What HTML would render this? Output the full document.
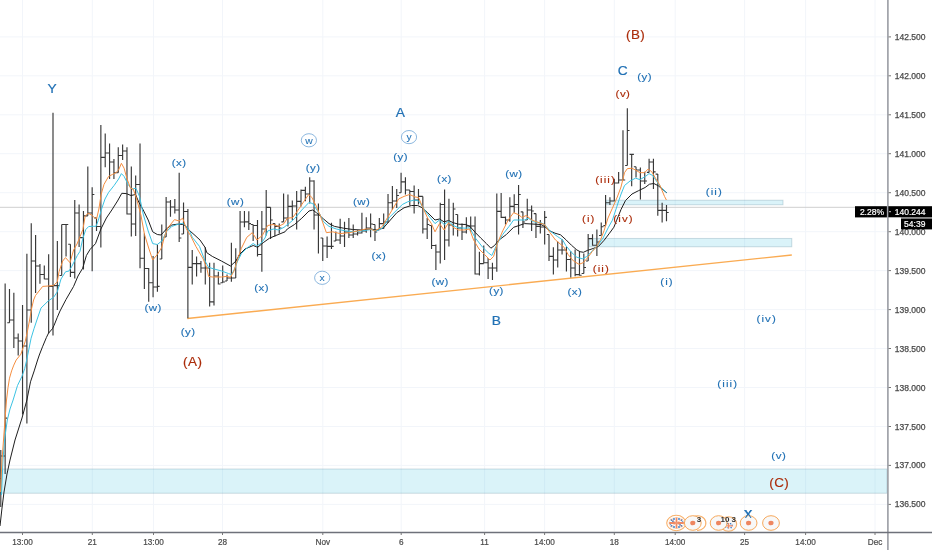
<!DOCTYPE html><html><head><meta charset="utf-8"><style>html,body{margin:0;padding:0;background:#fff;overflow:hidden}svg{display:block;will-change:transform}text{font-family:"Liberation Sans",sans-serif}</style></head><body>
<svg width="932" height="550" viewBox="0 0 932 550">
<rect width="932" height="550" fill="#fff"/>
<path d="M22.5,0V531 M92.3,0V531 M153.5,0V531 M222.5,0V531 M322.8,0V531 M401.2,0V531 M484.6,0V531 M544.6,0V531 M614.3,0V531 M675.2,0V531 M744.6,0V531 M805.6,0V531 M875.0,0V531 M0,36.9H887 M0,75.8H887 M0,114.8H887 M0,153.7H887 M0,192.7H887 M0,231.7H887 M0,270.6H887 M0,309.6H887 M0,348.5H887 M0,387.5H887 M0,426.5H887 M0,465.4H887 M0,504.4H887" stroke="#f2f5fa" stroke-width="1" fill="none"/>
<rect x="0" y="469" width="887" height="24.2" fill="rgba(60,190,222,0.19)" stroke="rgba(110,150,165,0.35)" stroke-width="0.9"/>
<rect x="589.4" y="238.4" width="202.4" height="8.4" fill="rgba(60,190,222,0.19)" stroke="rgba(110,150,165,0.35)" stroke-width="0.9"/>
<rect x="606" y="200.2" width="177" height="4.6" fill="rgba(60,190,222,0.19)" stroke="rgba(110,150,165,0.35)" stroke-width="0.9"/>
<path d="M0,207.3H887" stroke="#cfcfcf" stroke-width="1"/>
<path d="M187.3,318.5L791.8,255" stroke="#faab52" stroke-width="1.4" fill="none"/>
<path d="M0.79,450.0V507.0M-1.41,478.5H0.79M0.79,456.0H2.99M5.14,283.6V474.0M2.94,456.0H5.14M5.14,418.1H7.34M9.49,289.0V322.7M7.29,322.7H9.49M9.49,320.0H11.69M13.84,292.7V348.0M11.64,320.0H13.84M13.84,338.0H16.04M18.19,333.6V355.5M15.99,338.0H18.19M18.19,341.0H20.39M22.54,305.0V414.5M20.34,341.0H22.54M22.54,346.0H24.74M26.89,253.8V423.6M24.70,346.0H26.89M26.89,310.0H29.09M31.25,223.3V322.7M29.05,310.0H31.25M31.25,261.0H33.45M35.60,235.0V293.0M33.40,261.0H35.60M35.60,266.0H37.80M39.95,264.0V283.7M37.75,266.0H39.95M39.95,274.5H42.15M44.30,265.5V279.3M42.10,274.5H44.30M44.30,279.0H46.50M48.65,254.3V333.6M46.45,279.0H48.65M48.65,286.3H50.85M53.00,112.7V335.5M50.80,286.3H53.00M53.00,285.6H55.20M57.35,241.0V310.0M55.15,285.6H57.35M57.35,285.6H59.55M61.70,224.5V275.5M59.50,275.5H61.70M61.70,224.5H63.90M66.05,224.5V256.5M63.85,224.5H66.05M66.05,224.5H68.25M70.41,244.2V277.0M68.20,244.2H70.41M70.41,272.3H72.61M74.76,200.0V278.4M72.56,272.3H74.76M74.76,213.0H76.96M79.11,204.5V247.0M76.91,213.0H79.11M79.11,237.6H81.31M83.46,211.0V269.6M81.26,237.6H83.46M83.46,215.8H85.66M87.81,166.4V215.8M85.61,215.8H87.81M87.81,213.0H90.01M92.16,187.3V271.3M89.96,213.0H92.16M92.16,194.5H94.36M96.51,217.8V231.0M94.31,217.8H96.51M96.51,226.5H98.71M100.86,124.9V247.6M98.66,226.5H100.86M100.86,157.3H103.06M105.21,133.6V167.3M103.01,157.3H105.21M105.21,153.0H107.41M109.56,143.6V179.0M107.36,153.0H109.56M109.56,162.0H111.76M113.92,159.0V179.0M111.72,162.0H113.92M113.92,172.7H116.12M118.27,147.3V172.7M116.07,172.7H118.27M118.27,155.5H120.47M122.62,144.5V160.0M120.42,155.5H122.62M122.62,151.0H124.82M126.97,147.3V214.5M124.77,151.0H126.97M126.97,214.0H129.17M131.32,166.4V236.4M129.12,214.0H131.32M131.32,224.0H133.52M135.67,175.5V236.0M133.47,224.0H135.67M135.67,184.5H137.87M140.02,143.6V268.2M137.82,184.5H140.02M140.02,258.2H142.22M144.37,233.6V289.0M142.17,258.2H144.37M144.37,268.5H146.57M148.72,268.0V301.8M146.52,268.5H148.72M148.72,282.7H150.92M153.07,256.0V297.3M150.87,282.7H153.07M153.07,287.0H155.27M157.42,244.5V291.8M155.22,287.0H157.42M157.42,286.4H159.62M161.78,224.5V259.0M159.58,259.0H161.78M161.78,240.0H163.98M166.13,197.0V237.0M163.93,237.0H166.13M166.13,202.0H168.33M170.48,200.0V216.7M168.28,202.0H170.48M170.48,207.0H172.68M174.83,199.0V213.6M172.63,207.0H174.83M174.83,210.0H177.03M179.18,172.7V242.0M176.98,210.0H179.18M179.18,238.0H181.38M183.53,202.4V234.0M181.33,234.0H183.53M183.53,211.5H185.73M187.88,209.0V318.2M185.68,211.5H187.88M187.88,267.3H190.08M192.23,250.0V284.5M190.03,267.3H192.23M192.23,263.6H194.43M196.58,256.4V276.4M194.38,263.6H196.58M196.58,263.6H198.78M200.93,261.0V272.7M198.73,263.6H200.93M200.93,268.0H203.13M205.29,247.3V284.5M203.09,268.0H205.29M205.29,268.0H207.49M209.64,262.7V306.4M207.44,268.0H209.64M209.64,301.8H211.84M213.99,262.7V305.5M211.79,301.8H213.99M213.99,276.0H216.19M218.34,271.8V284.5M216.14,276.0H218.34M218.34,284.0H220.54M222.69,265.5V282.7M220.49,282.7H222.69M222.69,282.0H224.89M227.04,274.5V281.0M224.84,281.0H227.04M227.04,278.0H229.24M231.39,242.7V281.8M229.19,278.0H231.39M231.39,278.0H233.59M235.74,248.2V278.0M233.54,278.0H235.74M235.74,260.0H237.94M240.09,211.0V256.0M237.89,256.0H240.09M240.09,222.0H242.29M244.44,211.0V227.3M242.25,222.0H244.44M244.44,221.8H246.64M248.80,211.3V230.0M246.60,221.8H248.80M248.80,223.6H251.00M253.15,224.5V241.0M250.95,224.5H253.15M253.15,225.5H255.35M257.50,220.0V256.4M255.30,225.5H257.50M257.50,254.5H259.70M261.85,211.0V271.8M259.65,254.5H261.85M261.85,229.0H264.05M266.20,190.0V235.5M264.00,229.0H266.20M266.20,207.3H268.40M270.55,207.3V239.0M268.35,207.3H270.55M270.55,220.0H272.75M274.90,223.6V236.4M272.70,223.6H274.90M274.90,226.4H277.10M279.25,223.6V233.6M277.05,226.4H279.25M279.25,228.0H281.45M283.60,193.6V221.8M281.40,221.8H283.60M283.60,218.0H285.80M287.95,194.5V226.4M285.75,218.0H287.95M287.95,206.4H290.15M292.31,200.5V220.0M290.11,206.4H292.31M292.31,206.0H294.51M296.66,191.0V229.6M294.46,206.0H296.66M296.66,201.3H298.86M301.01,189.6V206.4M298.81,201.3H301.01M301.01,190.4H303.21M305.36,186.7V201.3M303.16,190.4H305.36M305.36,194.0H307.56M309.71,177.3V203.5M307.51,194.0H309.71M309.71,181.0H311.91M314.06,180.2V229.6M311.86,181.0H314.06M314.06,215.0H316.26M318.41,203.5V253.6M316.21,215.0H318.41M318.41,215.0H320.61M322.76,238.0V261.0M320.56,238.0H322.76M322.76,246.0H324.96M327.11,236.4V258.0M324.91,246.0H327.11M327.11,246.3H329.31M331.46,222.7V249.0M329.26,246.3H331.46M331.46,246.3H333.66M335.82,231.5V241.0M333.62,241.0H335.82M335.82,240.0H338.02M340.17,218.7V244.0M337.97,240.0H340.17M340.17,236.0H342.37M344.52,221.8V247.0M342.32,236.0H344.52M344.52,232.0H346.72M348.87,218.0V238.0M346.67,232.0H348.87M348.87,235.0H351.07M353.22,224.5V238.0M351.02,235.0H353.22M353.22,234.0H355.42M357.57,230.0V235.5M355.37,234.0H357.57M357.57,233.0H359.77M361.92,212.7V233.6M359.72,233.0H361.92M361.92,231.0H364.12M366.27,217.3V232.7M364.07,231.0H366.27M366.27,228.0H368.47M370.62,213.6V237.3M368.42,228.0H370.62M370.62,224.0H372.82M374.97,224.5V241.0M372.77,224.5H374.97M374.97,232.0H377.17M379.33,218.0V230.0M377.13,230.0H379.33M379.33,223.6H381.53M383.68,213.6V229.0M381.48,223.6H383.68M383.68,222.0H385.88M388.03,194.0V222.7M385.83,222.0H388.03M388.03,202.7H390.23M392.38,186.0V210.0M390.18,202.7H392.38M392.38,201.0H394.58M396.73,189.0V208.0M394.53,201.0H396.73M396.73,195.5H398.93M401.08,172.7V192.7M398.88,192.7H401.08M401.08,181.8H403.28M405.43,177.3V194.5M403.23,181.8H405.43M405.43,190.0H407.63M409.78,190.0V205.5M407.58,190.0H409.78M409.78,191.5H411.98M414.13,185.5V213.6M411.93,191.5H414.13M414.13,200.0H416.33M418.48,189.0V204.5M416.28,200.0H418.48M418.48,196.4H420.68M422.84,196.4V233.6M420.64,196.4H422.84M422.84,229.0H425.04M427.19,218.0V239.0M424.99,229.0H427.19M427.19,224.5H429.39M431.54,225.5V249.0M429.34,225.5H431.54M431.54,245.5H433.74M435.89,244.5V270.0M433.69,245.5H435.89M435.89,252.0H438.09M440.24,202.7V263.6M438.04,252.0H440.24M440.24,204.5H442.44M444.59,189.6V260.0M442.39,204.5H444.59M444.59,240.0H446.79M448.94,198.7V246.4M446.74,240.0H448.94M448.94,225.0H451.14M453.29,202.7V235.5M451.09,225.0H453.29M453.29,209.0H455.49M457.64,214.5V236.4M455.44,214.5H457.64M457.64,228.0H459.84M462.00,223.6V240.0M459.80,228.0H462.00M462.00,232.0H464.19M466.35,217.3V233.6M464.15,232.0H466.35M466.35,226.0H468.55M470.70,216.4V232.0M468.50,226.0H470.70M470.70,226.0H472.90M475.05,216.4V274.5M472.85,226.0H475.05M475.05,274.0H477.25M479.40,251.8V275.5M477.20,274.0H479.40M479.40,263.6H481.60M483.75,245.5V263.6M481.55,263.6H483.75M483.75,262.7H485.95M488.10,258.0V279.0M485.90,262.7H488.10M488.10,268.0H490.30M492.45,262.7V280.0M490.25,268.0H492.45M492.45,268.0H494.65M496.80,193.6V271.8M494.60,268.0H496.80M496.80,211.3H499.00M501.15,193.0V218.0M498.95,211.3H501.15M501.15,217.3H503.35M505.50,216.4V224.5M503.31,217.3H505.50M505.50,220.0H507.70M509.86,197.3V221.8M507.66,220.0H509.86M509.86,206.4H512.06M514.21,194.2V212.7M512.01,206.4H514.21M514.21,204.5H516.41M518.56,185.0V234.5M516.36,204.5H518.56M518.56,194.5H520.76M522.91,211.8V228.0M520.71,211.8H522.91M522.91,222.0H525.11M527.26,198.7V220.0M525.06,220.0H527.26M527.26,210.0H529.46M531.61,205.5V231.0M529.41,210.0H531.61M531.61,211.0H533.81M535.96,213.6V238.0M533.76,213.6H535.96M535.96,226.4H538.16M540.31,220.0V233.6M538.11,226.4H540.31M540.31,227.0H542.51M544.66,211.0V244.5M542.46,227.0H544.66M544.66,217.3H546.86M549.01,234.5V261.0M546.81,234.5H549.01M549.01,256.4H551.22M553.37,247.3V274.5M551.17,256.4H553.37M553.37,260.0H555.57M557.72,241.4V267.4M555.52,260.0H557.72M557.72,250.0H559.92M562.07,239.2V254.5M559.87,250.0H562.07M562.07,250.0H564.27M566.42,246.8V271.4M564.22,250.0H566.42M566.42,259.5H568.62M570.77,251.2V277.4M568.57,259.5H570.77M570.77,268.0H572.97M575.12,249.5V276.3M572.92,268.0H575.12M575.12,274.6H577.32M579.47,251.2V275.7M577.27,274.6H579.47M579.47,275.2H581.67M583.82,253.5V273.5M581.62,273.5H583.82M583.82,267.5H586.02M588.17,233.9V261.0M585.97,261.0H588.17M588.17,238.6H590.37M592.52,234.3V245.7M590.32,238.6H592.52M592.52,245.2H594.73M596.88,229.4V256.0M594.68,245.2H596.88M596.88,242.0H599.08M601.23,222.4V235.5M599.03,235.5H601.23M601.23,226.7H603.43M605.58,195.0V225.6M603.38,225.6H605.58M605.58,202.7H607.78M609.93,197.3V205.0M607.73,202.7H609.93M609.93,201.0H612.13M614.28,178.7V201.6M612.08,201.0H614.28M614.28,183.0H616.48M618.63,172.0V183.5M616.43,183.0H618.63M618.63,180.0H620.83M622.98,130.2V180.0M620.78,180.0H622.98M622.98,180.0H625.18M627.33,108.3V165.5M625.13,165.5H627.33M627.33,130.5H629.53M631.68,154.3V186.2M629.48,154.3H631.68M631.68,154.4H633.88M636.03,166.7V177.5M633.83,166.7H636.03M636.03,170.0H638.24M640.39,167.4V199.5M638.19,170.0H640.39M640.39,181.0H642.59M644.74,171.8V184.0M642.54,181.0H644.74M644.74,181.0H646.94M649.09,158.8V172.4M646.89,172.4H649.09M649.09,162.0H651.29M653.44,158.8V189.0M651.24,162.0H653.44M653.44,171.8H655.64M657.79,174.1V215.8M655.59,174.1H657.79M657.79,210.4H659.99M662.14,202.7V222.4M659.94,210.4H662.14M662.14,210.4H664.34M666.49,205.0V221.3M664.29,210.4H666.49M666.49,212.5H668.69" stroke="#383838" stroke-width="1.15" fill="none"/>
<path d="M0.0,526.0 L2.0,508.0 L4.0,492.0 L7.0,474.0 L10.0,460.0 L15.0,440.0 L22.0,418.0 L26.9,400.0 L30.5,381.8 L34.2,370.9 L37.6,360.0 L39.3,355.0 L42.5,346.8 L46.4,337.5 L48.5,333.2 L52.4,328.8 L54.0,325.5 L57.3,317.3 L60.0,311.0 L66.0,299.5 L73.6,286.4 L78.0,276.0 L82.7,268.2 L86.4,255.5 L90.0,249.5 L95.5,243.6 L100.9,229.0 L106.4,218.0 L111.8,210.0 L117.5,201.0 L121.8,193.3 L126.4,193.6 L131.0,195.5 L135.5,194.5 L139.0,202.7 L142.7,209.0 L148.2,220.0 L152.7,231.8 L157.3,234.5 L161.0,235.0 L166.4,229.0 L171.8,225.0 L177.3,224.2 L182.7,224.5 L185.0,225.5 L190.0,231.0 L194.0,234.5 L200.0,240.0 L205.0,247.3 L206.8,252.7 L212.3,256.4 L221.4,261.0 L230.5,266.0 L236.0,261.0 L239.5,254.5 L245.0,249.0 L253.2,245.5 L257.7,247.3 L263.2,242.7 L269.5,238.2 L275.9,235.5 L285.0,231.8 L287.3,229.0 L294.5,224.5 L301.8,218.2 L309.0,211.0 L312.7,210.0 L316.4,212.7 L323.6,219.0 L329.0,223.6 L334.5,226.4 L343.6,228.2 L352.7,229.5 L361.8,230.0 L370.9,229.0 L376.4,230.0 L383.2,228.2 L389.5,221.0 L396.8,212.7 L404.0,207.8 L411.4,205.5 L417.7,205.5 L422.3,207.8 L427.7,212.7 L435.0,220.0 L439.5,219.0 L444.0,221.8 L448.6,220.5 L453.2,222.7 L458.6,224.2 L465.9,224.5 L470.0,226.5 L475.5,232.7 L480.9,238.2 L486.4,243.6 L490.9,248.2 L494.5,245.5 L499.0,240.0 L506.4,234.5 L513.6,227.3 L519.0,225.5 L524.5,223.6 L531.8,224.0 L540.9,224.5 L544.5,226.4 L550.0,231.0 L555.0,233.2 L560.5,234.8 L565.9,239.7 L571.4,245.2 L576.8,249.9 L580.1,251.7 L583.4,252.3 L587.7,250.3 L593.2,248.5 L598.6,246.3 L604.1,240.3 L609.5,233.2 L613.9,227.2 L616.7,220.2 L621.1,209.3 L625.5,200.5 L632.0,194.0 L638.5,190.7 L645.1,187.5 L649.5,184.2 L653.8,183.5 L658.2,185.7 L666.9,192.9" stroke="#1e1e1e" stroke-width="1" fill="none"/>
<path d="M1.5,495.0 L2.3,475.0 L3.0,460.0 L4.5,440.0 L7.3,420.0 L10.0,409.0 L13.1,400.0 L17.5,385.5 L21.8,376.7 L24.7,368.7 L26.7,360.0 L28.9,349.1 L31.1,338.2 L34.0,328.7 L36.9,320.0 L41.0,308.0 L48.2,301.0 L53.6,297.3 L57.3,291.8 L61.0,279.0 L65.5,271.8 L69.0,271.0 L71.8,266.4 L77.3,255.5 L80.0,251.3 L82.9,238.2 L85.8,229.5 L88.7,226.5 L93.1,226.3 L96.0,226.3 L98.2,220.7 L101.6,209.0 L105.0,199.0 L108.6,192.4 L114.0,185.6 L118.6,179.0 L121.4,173.6 L124.1,176.4 L128.6,185.5 L132.3,189.0 L135.9,188.2 L139.5,196.4 L143.2,214.0 L148.2,231.0 L152.7,243.6 L157.3,244.5 L161.8,241.0 L166.4,231.8 L171.8,226.4 L177.3,224.5 L182.7,223.3 L186.4,226.4 L190.0,231.8 L192.3,237.3 L199.5,246.4 L205.0,261.0 L208.6,267.3 L214.1,269.0 L221.4,270.9 L228.6,273.6 L231.4,274.5 L234.1,270.0 L237.7,260.9 L241.4,253.6 L246.8,248.2 L253.2,243.5 L256.8,246.0 L261.4,243.0 L265.0,238.0 L267.7,231.0 L273.2,229.0 L278.6,230.0 L284.0,227.3 L289.5,223.0 L294.5,218.7 L301.8,210.0 L309.0,202.4 L312.7,203.6 L318.2,211.8 L323.6,221.8 L329.0,226.4 L336.4,229.0 L345.5,230.9 L354.5,231.8 L361.8,230.9 L370.9,229.5 L376.4,230.9 L382.3,228.2 L389.5,217.3 L396.8,210.0 L402.3,204.5 L407.7,201.8 L414.1,200.0 L418.6,200.9 L422.3,206.4 L427.7,214.5 L435.0,223.6 L439.5,220.0 L444.1,224.5 L448.6,221.3 L453.2,225.5 L458.6,227.8 L465.9,228.2 L469.5,227.8 L475.5,238.2 L482.7,247.3 L488.2,252.7 L491.8,255.5 L497.3,243.6 L502.7,234.5 L509.1,226.4 L513.6,220.0 L519.1,220.0 L524.5,220.0 L528.2,218.2 L533.6,221.8 L540.9,222.7 L544.5,224.5 L550.0,230.9 L557.3,236.4 L562.7,240.0 L565.9,245.7 L571.4,252.3 L576.8,257.2 L582.3,258.8 L586.6,256.6 L592.1,251.2 L597.5,245.7 L603.0,238.1 L608.5,227.2 L612.4,220.2 L616.7,207.1 L619.0,200.0 L621.1,194.0 L624.5,185.5 L630.0,181.0 L635.5,178.2 L640.0,179.6 L645.5,176.4 L649.0,173.6 L652.7,175.5 L656.4,181.0 L661.0,187.3 L666.4,192.7" stroke="#3cc3e3" stroke-width="1" fill="none"/>
<path d="M0.5,492.0 L1.0,480.0 L2.0,460.0 L3.5,440.0 L5.0,420.0 L6.5,400.0 L8.0,387.6 L9.5,378.2 L11.6,370.9 L13.8,365.1 L16.2,360.0 L20.9,354.2 L23.1,347.6 L25.3,341.1 L27.5,330.9 L29.6,320.0 L31.5,309.0 L33.6,300.0 L35.5,295.5 L42.7,286.4 L48.2,286.0 L53.6,285.5 L57.3,281.8 L59.0,271.8 L62.7,261.0 L65.5,257.6 L70.0,262.7 L73.6,250.0 L77.0,244.0 L80.0,236.7 L82.9,229.5 L85.1,216.4 L88.0,213.2 L91.6,215.0 L94.5,217.8 L96.7,218.5 L98.9,209.0 L101.1,194.5 L104.0,184.4 L108.6,176.4 L112.3,174.5 L115.9,172.7 L118.6,170.0 L121.4,163.3 L124.1,168.2 L126.8,178.2 L130.5,188.2 L133.2,189.0 L136.4,198.0 L140.9,215.0 L144.5,234.5 L149.0,249.0 L152.7,260.0 L157.3,254.5 L161.8,247.3 L164.5,236.4 L168.2,227.3 L174.5,219.6 L179.0,221.0 L182.7,218.2 L186.4,229.0 L190.5,235.5 L195.9,246.4 L203.2,259.0 L206.8,268.0 L208.6,276.4 L212.3,277.0 L221.4,277.0 L226.8,276.4 L230.5,277.3 L234.0,271.0 L237.7,259.0 L241.4,248.2 L246.8,237.3 L252.3,232.7 L254.5,236.0 L256.8,240.0 L262.3,235.5 L267.7,225.5 L273.2,224.5 L278.6,226.4 L284.0,223.6 L287.3,218.2 L292.7,217.6 L298.2,210.0 L303.6,201.8 L308.7,194.5 L311.8,197.3 L316.4,206.4 L320.9,217.3 L326.4,232.7 L332.7,231.8 L340.0,233.6 L349.0,232.7 L358.2,230.9 L365.5,229.0 L370.9,229.0 L374.5,230.9 L380.0,228.2 L382.3,226.4 L387.7,217.3 L393.2,208.2 L398.6,199.0 L404.0,196.4 L409.5,194.5 L415.0,196.9 L418.6,197.6 L422.3,206.4 L427.7,218.2 L431.4,223.6 L435.0,231.8 L439.5,223.6 L444.1,230.0 L448.6,222.7 L453.2,227.3 L458.6,230.0 L464.0,230.0 L469.5,229.0 L473.6,240.0 L479.0,249.0 L484.5,254.5 L490.0,260.0 L493.6,256.4 L497.3,243.6 L502.7,230.9 L508.2,220.0 L513.6,212.7 L518.2,214.5 L521.8,217.3 L526.4,215.5 L531.8,220.0 L539.1,222.7 L544.5,224.5 L550.0,232.7 L555.5,240.0 L560.9,244.5 L563.7,246.8 L568.1,254.5 L573.5,261.0 L579.0,264.3 L583.4,262.6 L587.7,257.7 L592.1,251.7 L596.5,246.8 L600.8,239.2 L604.1,230.5 L608.0,218.0 L612.4,208.2 L617.3,197.0 L621.0,187.0 L624.5,172.7 L627.3,168.7 L631.8,168.2 L635.5,170.0 L640.0,172.7 L644.5,172.7 L648.2,169.0 L651.8,171.8 L655.5,178.2 L660.0,185.5 L664.5,196.4 L666.4,200.0" stroke="#f58e40" stroke-width="1" fill="none"/>
<text transform="translate(179.2,165.6) scale(1.2,1)" text-anchor="middle" font-size="9.6" letter-spacing="0.4" fill="#2171b5" stroke="#2171b5" stroke-width="0.12">(x)</text>
<text transform="translate(153.2,311.4) scale(1.2,1)" text-anchor="middle" font-size="9.6" letter-spacing="0.4" fill="#2171b5" stroke="#2171b5" stroke-width="0.12">(w)</text>
<text transform="translate(188.2,335.1) scale(1.2,1)" text-anchor="middle" font-size="9.6" letter-spacing="0.4" fill="#2171b5" stroke="#2171b5" stroke-width="0.12">(y)</text>
<text transform="translate(235.5,204.9) scale(1.2,1)" text-anchor="middle" font-size="9.6" letter-spacing="0.4" fill="#2171b5" stroke="#2171b5" stroke-width="0.12">(w)</text>
<text transform="translate(261.6,290.6) scale(1.2,1)" text-anchor="middle" font-size="9.6" letter-spacing="0.4" fill="#2171b5" stroke="#2171b5" stroke-width="0.12">(x)</text>
<text transform="translate(313.2,170.5) scale(1.2,1)" text-anchor="middle" font-size="9.6" letter-spacing="0.4" fill="#2171b5" stroke="#2171b5" stroke-width="0.12">(y)</text>
<text transform="translate(361.6,205.1) scale(1.2,1)" text-anchor="middle" font-size="9.6" letter-spacing="0.4" fill="#2171b5" stroke="#2171b5" stroke-width="0.12">(w)</text>
<text transform="translate(378.9,258.7) scale(1.2,1)" text-anchor="middle" font-size="9.6" letter-spacing="0.4" fill="#2171b5" stroke="#2171b5" stroke-width="0.12">(x)</text>
<text transform="translate(400.6,159.6) scale(1.2,1)" text-anchor="middle" font-size="9.6" letter-spacing="0.4" fill="#2171b5" stroke="#2171b5" stroke-width="0.12">(y)</text>
<text transform="translate(444.5,181.7) scale(1.2,1)" text-anchor="middle" font-size="9.6" letter-spacing="0.4" fill="#2171b5" stroke="#2171b5" stroke-width="0.12">(x)</text>
<text transform="translate(440.2,284.6) scale(1.2,1)" text-anchor="middle" font-size="9.6" letter-spacing="0.4" fill="#2171b5" stroke="#2171b5" stroke-width="0.12">(w)</text>
<text transform="translate(513.9,176.9) scale(1.2,1)" text-anchor="middle" font-size="9.6" letter-spacing="0.4" fill="#2171b5" stroke="#2171b5" stroke-width="0.12">(w)</text>
<text transform="translate(496.5,293.9) scale(1.2,1)" text-anchor="middle" font-size="9.6" letter-spacing="0.4" fill="#2171b5" stroke="#2171b5" stroke-width="0.12">(y)</text>
<text transform="translate(574.9,295.4) scale(1.2,1)" text-anchor="middle" font-size="9.6" letter-spacing="0.4" fill="#2171b5" stroke="#2171b5" stroke-width="0.12">(x)</text>
<text transform="translate(644.6,79.9) scale(1.2,1)" text-anchor="middle" font-size="9.6" letter-spacing="0.4" fill="#2171b5" stroke="#2171b5" stroke-width="0.12">(y)</text>
<text transform="translate(714.3,194.9) scale(1.2,1)" text-anchor="middle" font-size="9.6" letter-spacing="0.9" fill="#2171b5" stroke="#2171b5" stroke-width="0.12">(ii)</text>
<text transform="translate(667.0,284.9) scale(1.2,1)" text-anchor="middle" font-size="9.6" letter-spacing="0.9" fill="#2171b5" stroke="#2171b5" stroke-width="0.12">(i)</text>
<text transform="translate(766.7,322.2) scale(1.2,1)" text-anchor="middle" font-size="9.6" letter-spacing="0.9" fill="#2171b5" stroke="#2171b5" stroke-width="0.12">(iv)</text>
<text transform="translate(727.7,386.5) scale(1.2,1)" text-anchor="middle" font-size="9.6" letter-spacing="0.9" fill="#2171b5" stroke="#2171b5" stroke-width="0.12">(iii)</text>
<text transform="translate(778.8,459.3) scale(1.2,1)" text-anchor="middle" font-size="9.6" letter-spacing="0.4" fill="#2171b5" stroke="#2171b5" stroke-width="0.12">(v)</text>
<text transform="translate(623.0,97.1) scale(1.2,1)" text-anchor="middle" font-size="9.6" letter-spacing="0.4" fill="#ab2c0a" stroke="#ab2c0a" stroke-width="0.12">(v)</text>
<text transform="translate(605.5,183.4) scale(1.2,1)" text-anchor="middle" font-size="9.6" letter-spacing="0.9" fill="#ab2c0a" stroke="#ab2c0a" stroke-width="0.12">(iii)</text>
<text transform="translate(588.8,221.9) scale(1.2,1)" text-anchor="middle" font-size="9.6" letter-spacing="0.9" fill="#ab2c0a" stroke="#ab2c0a" stroke-width="0.12">(i)</text>
<text transform="translate(623.5,221.9) scale(1.2,1)" text-anchor="middle" font-size="9.6" letter-spacing="0.9" fill="#ab2c0a" stroke="#ab2c0a" stroke-width="0.12">(iv)</text>
<text transform="translate(601.3,271.7) scale(1.2,1)" text-anchor="middle" font-size="9.6" letter-spacing="0.9" fill="#ab2c0a" stroke="#ab2c0a" stroke-width="0.12">(ii)</text>
<text transform="translate(635.6,38.6) scale(1.12,1)" text-anchor="middle" font-size="12" letter-spacing="0.4" fill="#ab2c0a" stroke="#ab2c0a" stroke-width="0.15">(B)</text>
<text transform="translate(192.7,366.1) scale(1.12,1)" text-anchor="middle" font-size="12" letter-spacing="0.4" fill="#ab2c0a" stroke="#ab2c0a" stroke-width="0.15">(A)</text>
<text transform="translate(779.2,487.1) scale(1.12,1)" text-anchor="middle" font-size="12" letter-spacing="0.4" fill="#ab2c0a" stroke="#ab2c0a" stroke-width="0.15">(C)</text>
<text transform="translate(52.0,93.3) scale(1.1,1)" text-anchor="middle" font-size="12.5" letter-spacing="0" fill="#2171b5" stroke="#2171b5" stroke-width="0.2">Y</text>
<text transform="translate(400.4,116.8) scale(1.1,1)" text-anchor="middle" font-size="12.5" letter-spacing="0" fill="#2171b5" stroke="#2171b5" stroke-width="0.2">A</text>
<text transform="translate(496.3,325.3) scale(1.1,1)" text-anchor="middle" font-size="12.5" letter-spacing="0" fill="#2171b5" stroke="#2171b5" stroke-width="0.2">B</text>
<text transform="translate(622.8,74.5) scale(1.1,1)" text-anchor="middle" font-size="12.5" letter-spacing="0" fill="#2171b5" stroke="#2171b5" stroke-width="0.2">C</text>
<text transform="translate(748.0,518.5) scale(1.1,1)" text-anchor="middle" font-size="12.5" letter-spacing="0" fill="#2171b5" stroke="#2171b5" stroke-width="0.2">X</text>
<ellipse cx="308.9" cy="140.3" rx="7.6" ry="6.6" fill="#fff" stroke="#6fa5d6" stroke-width="0.8"/>
<text transform="translate(308.9,143.5) scale(1.15,1)" text-anchor="middle" font-size="9" letter-spacing="0" fill="#2171b5" stroke="#2171b5" stroke-width="0.05">w</text>
<ellipse cx="322.2" cy="277.8" rx="7.6" ry="6.6" fill="#fff" stroke="#6fa5d6" stroke-width="0.8"/>
<text transform="translate(322.2,281.0) scale(1.15,1)" text-anchor="middle" font-size="9" letter-spacing="0" fill="#2171b5" stroke="#2171b5" stroke-width="0.05">x</text>
<ellipse cx="409" cy="137.1" rx="7.6" ry="6.6" fill="#fff" stroke="#6fa5d6" stroke-width="0.8"/>
<text transform="translate(409.0,140.3) scale(1.15,1)" text-anchor="middle" font-size="9" letter-spacing="0" fill="#2171b5" stroke="#2171b5" stroke-width="0.05">y</text>
<ellipse cx="676.3" cy="523" rx="9.6" ry="7.7" fill="#fff" stroke="#f8b06a" stroke-width="1.1"/>
<ellipse cx="676.5" cy="523" rx="7.6" ry="5.6" fill="#fff" stroke="#fbd0a5" stroke-width="0.6"/>
<circle cx="671.5" cy="520" r="0.9" fill="#2f78c8"/>
<circle cx="674.0" cy="519" r="0.9" fill="#2f78c8"/>
<circle cx="679.0" cy="519" r="0.9" fill="#2f78c8"/>
<circle cx="681.5" cy="520" r="0.9" fill="#2f78c8"/>
<circle cx="671.5" cy="526" r="0.9" fill="#2f78c8"/>
<circle cx="674.0" cy="527" r="0.9" fill="#2f78c8"/>
<circle cx="679.0" cy="527" r="0.9" fill="#2f78c8"/>
<circle cx="681.5" cy="526" r="0.9" fill="#2f78c8"/>
<circle cx="670.5" cy="523.8" r="0.9" fill="#2f78c8"/>
<circle cx="682.5" cy="522.2" r="0.9" fill="#2f78c8"/>
<circle cx="673.0" cy="521.2" r="0.9" fill="#2f78c8"/>
<circle cx="680.0" cy="524.8" r="0.9" fill="#2f78c8"/>
<path d="M669.2,523H683.8M676.5,517.6V528.4" stroke="#f08a64" stroke-width="1.8"/>
<path d="M670.5,519L682.5,527M682.5,519L670.5,527" stroke="#f4a283" stroke-width="0.7"/>
<path d="M694,516.5 A8.2,7.3 0 1 1 697,530.3" fill="none" stroke="#f8b06a" stroke-width="1.1"/>
<ellipse cx="692.8" cy="523" rx="8.4" ry="7.3" fill="#f8f8f8" stroke="#f7a95c" stroke-width="1"/>
<ellipse cx="692.8" cy="523" rx="2.6" ry="2.3" fill="#ee8660"/>
<text x="699" y="521.5" text-anchor="middle" font-size="8" font-weight="bold" fill="#333">3</text>
<ellipse cx="728.5" cy="524" rx="8.2" ry="7.2" fill="#f6f6f6" stroke="#f8b06a" stroke-width="1.1"/>
<ellipse cx="728.6" cy="525.8" rx="4.6" ry="2.9" fill="#fff"/>
<circle cx="725.6" cy="524.3" r="0.8" fill="#2f78c8"/>
<circle cx="727.6" cy="523.5999999999999" r="0.8" fill="#2f78c8"/>
<circle cx="730.6" cy="523.8" r="0.8" fill="#2f78c8"/>
<circle cx="732.1" cy="525.3" r="0.8" fill="#2f78c8"/>
<circle cx="725.6" cy="527.3" r="0.8" fill="#2f78c8"/>
<circle cx="728.1" cy="527.8" r="0.8" fill="#2f78c8"/>
<circle cx="731.1" cy="527.5999999999999" r="0.8" fill="#2f78c8"/>
<path d="M724.3,525.8H733M728.6,523V528.6" stroke="#f08a64" stroke-width="1.3"/>
<ellipse cx="718.6" cy="523" rx="8.4" ry="7.3" fill="#f8f8f8" stroke="#f7a95c" stroke-width="1"/>
<ellipse cx="718.6" cy="523" rx="2.6" ry="2.3" fill="#ee8660"/>
<text x="728.3" y="521.6" text-anchor="middle" font-size="8" font-weight="bold" fill="#333">10 3</text>
<ellipse cx="748.6" cy="523" rx="8.4" ry="7.3" fill="#f8f8f8" stroke="#f7a95c" stroke-width="1"/>
<ellipse cx="748.6" cy="523" rx="2.6" ry="2.3" fill="#ee8660"/>
<ellipse cx="771" cy="523" rx="8.4" ry="7.3" fill="#f8f8f8" stroke="#f7a95c" stroke-width="1"/>
<ellipse cx="771" cy="523" rx="2.6" ry="2.3" fill="#ee8660"/>
<text transform="translate(748.3,518.1) scale(1.0,1)" text-anchor="middle" font-size="10.5" letter-spacing="0" fill="#2171b5" stroke="#2171b5" stroke-width="0">X</text>
<path d="M887.9,0V550" stroke="#9a9ca3" stroke-width="1.6"/>
<path d="M0,532.5H932" stroke="#6e717a" stroke-width="1.3"/>
<path d="M888.5,36.9H891" stroke="#777" stroke-width="1"/>
<text x="894.8" y="39.9" font-size="8.5" fill="#4a4a4a" stroke="#4a4a4a" stroke-width="0.25">142.500</text>
<path d="M888.5,75.8H891" stroke="#777" stroke-width="1"/>
<text x="894.8" y="78.8" font-size="8.5" fill="#4a4a4a" stroke="#4a4a4a" stroke-width="0.25">142.000</text>
<path d="M888.5,114.8H891" stroke="#777" stroke-width="1"/>
<text x="894.8" y="117.8" font-size="8.5" fill="#4a4a4a" stroke="#4a4a4a" stroke-width="0.25">141.500</text>
<path d="M888.5,153.7H891" stroke="#777" stroke-width="1"/>
<text x="894.8" y="156.7" font-size="8.5" fill="#4a4a4a" stroke="#4a4a4a" stroke-width="0.25">141.000</text>
<path d="M888.5,192.7H891" stroke="#777" stroke-width="1"/>
<text x="894.8" y="195.7" font-size="8.5" fill="#4a4a4a" stroke="#4a4a4a" stroke-width="0.25">140.500</text>
<path d="M888.5,231.7H891" stroke="#777" stroke-width="1"/>
<text x="894.8" y="234.7" font-size="8.5" fill="#4a4a4a" stroke="#4a4a4a" stroke-width="0.25">140.000</text>
<path d="M888.5,270.6H891" stroke="#777" stroke-width="1"/>
<text x="894.8" y="273.6" font-size="8.5" fill="#4a4a4a" stroke="#4a4a4a" stroke-width="0.25">139.500</text>
<path d="M888.5,309.6H891" stroke="#777" stroke-width="1"/>
<text x="894.8" y="312.6" font-size="8.5" fill="#4a4a4a" stroke="#4a4a4a" stroke-width="0.25">139.000</text>
<path d="M888.5,348.5H891" stroke="#777" stroke-width="1"/>
<text x="894.8" y="351.5" font-size="8.5" fill="#4a4a4a" stroke="#4a4a4a" stroke-width="0.25">138.500</text>
<path d="M888.5,387.5H891" stroke="#777" stroke-width="1"/>
<text x="894.8" y="390.5" font-size="8.5" fill="#4a4a4a" stroke="#4a4a4a" stroke-width="0.25">138.000</text>
<path d="M888.5,426.5H891" stroke="#777" stroke-width="1"/>
<text x="894.8" y="429.5" font-size="8.5" fill="#4a4a4a" stroke="#4a4a4a" stroke-width="0.25">137.500</text>
<path d="M888.5,465.4H891" stroke="#777" stroke-width="1"/>
<text x="894.8" y="468.4" font-size="8.5" fill="#4a4a4a" stroke="#4a4a4a" stroke-width="0.25">137.000</text>
<path d="M888.5,504.4H891" stroke="#777" stroke-width="1"/>
<text x="894.8" y="507.4" font-size="8.5" fill="#4a4a4a" stroke="#4a4a4a" stroke-width="0.25">136.500</text>
<path d="M22.5,532.8V535" stroke="#777" stroke-width="1"/>
<text x="22.5" y="545" text-anchor="middle" font-size="8.2" fill="#4a4a4a" stroke="#4a4a4a" stroke-width="0.2">13:00</text>
<path d="M92.3,532.8V535" stroke="#777" stroke-width="1"/>
<text x="92.3" y="545" text-anchor="middle" font-size="8.2" fill="#4a4a4a" stroke="#4a4a4a" stroke-width="0.2">21</text>
<path d="M153.5,532.8V535" stroke="#777" stroke-width="1"/>
<text x="153.5" y="545" text-anchor="middle" font-size="8.2" fill="#4a4a4a" stroke="#4a4a4a" stroke-width="0.2">13:00</text>
<path d="M222.5,532.8V535" stroke="#777" stroke-width="1"/>
<text x="222.5" y="545" text-anchor="middle" font-size="8.2" fill="#4a4a4a" stroke="#4a4a4a" stroke-width="0.2">28</text>
<path d="M322.8,532.8V535" stroke="#777" stroke-width="1"/>
<text x="322.8" y="545" text-anchor="middle" font-size="8.2" fill="#4a4a4a" stroke="#4a4a4a" stroke-width="0.2">Nov</text>
<path d="M401.2,532.8V535" stroke="#777" stroke-width="1"/>
<text x="401.2" y="545" text-anchor="middle" font-size="8.2" fill="#4a4a4a" stroke="#4a4a4a" stroke-width="0.2">6</text>
<path d="M484.6,532.8V535" stroke="#777" stroke-width="1"/>
<text x="484.6" y="545" text-anchor="middle" font-size="8.2" fill="#4a4a4a" stroke="#4a4a4a" stroke-width="0.2">11</text>
<path d="M544.6,532.8V535" stroke="#777" stroke-width="1"/>
<text x="544.6" y="545" text-anchor="middle" font-size="8.2" fill="#4a4a4a" stroke="#4a4a4a" stroke-width="0.2">14:00</text>
<path d="M614.3,532.8V535" stroke="#777" stroke-width="1"/>
<text x="614.3" y="545" text-anchor="middle" font-size="8.2" fill="#4a4a4a" stroke="#4a4a4a" stroke-width="0.2">18</text>
<path d="M675.2,532.8V535" stroke="#777" stroke-width="1"/>
<text x="675.2" y="545" text-anchor="middle" font-size="8.2" fill="#4a4a4a" stroke="#4a4a4a" stroke-width="0.2">14:00</text>
<path d="M744.6,532.8V535" stroke="#777" stroke-width="1"/>
<text x="744.6" y="545" text-anchor="middle" font-size="8.2" fill="#4a4a4a" stroke="#4a4a4a" stroke-width="0.2">25</text>
<path d="M805.6,532.8V535" stroke="#777" stroke-width="1"/>
<text x="805.6" y="545" text-anchor="middle" font-size="8.2" fill="#4a4a4a" stroke="#4a4a4a" stroke-width="0.2">14:00</text>
<path d="M875.0,532.8V535" stroke="#777" stroke-width="1"/>
<text x="875.0" y="545" text-anchor="middle" font-size="8.2" fill="#4a4a4a" stroke="#4a4a4a" stroke-width="0.2">Dec</text>
<rect x="855" y="206.2" width="31.9" height="11.2" fill="#000"/>
<text x="884" y="214.8" text-anchor="end" font-size="8.5" fill="#fff" stroke="#fff" stroke-width="0.2">2.28%</text>
<rect x="888.3" y="206.2" width="43.7" height="11.1" fill="#000"/>
<path d="M889,211.7H891" stroke="#fff" stroke-width="0.8"/>
<text x="894.8" y="214.8" font-size="8.5" fill="#fff" stroke="#fff" stroke-width="0.2">140.244</text>
<rect x="901" y="217.3" width="31" height="1.7" fill="#7a7a7a"/>
<rect x="901" y="219" width="31" height="10.4" fill="#000"/>
<text x="904.1" y="227.4" font-size="8.5" fill="#fff" stroke="#fff" stroke-width="0.2">54:39</text>
</svg></body></html>
